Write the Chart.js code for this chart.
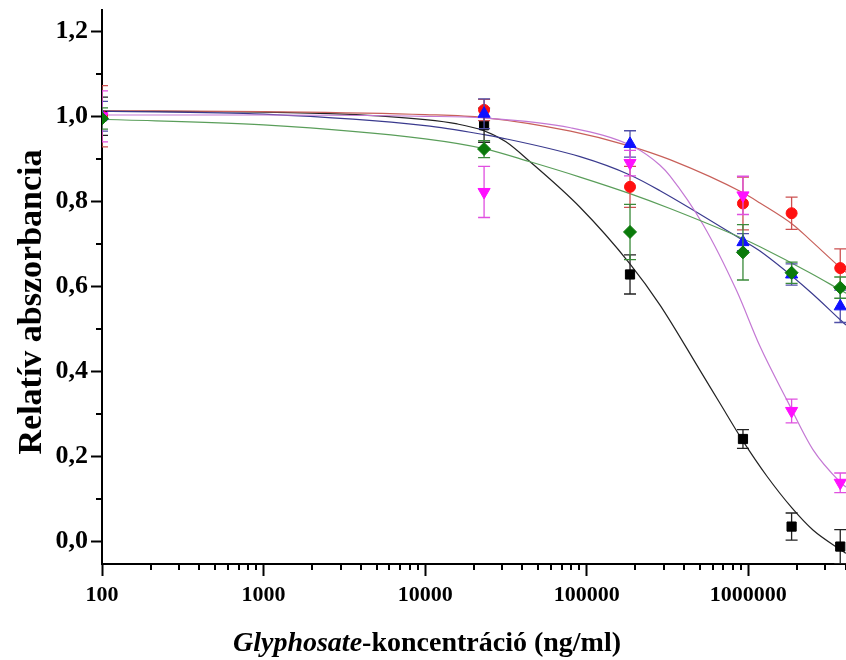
<!DOCTYPE html>
<html>
<head>
<meta charset="utf-8">
<script src="https://cdn.jsdelivr.net/npm/chart.js@4.4.1/dist/chart.umd.min.js"></script>
<style>
html,body{margin:0;padding:0;background:#fff}
#wrap{width:846px;height:660px}
</style>
</head>
<body>
<div id="wrap"><canvas id="chart" width="846" height="660"></canvas></div>
<script>
// ===== measured points (ng/ml, relative absorbance ± SD) =====
const CONC = [100, 23148, 185185, 925926, 1851852, 3703704];
const BLACK_Y = [1.0, 0.979, 0.628, 0.241, 0.035, -0.012];
const BLACK_E = [0.045, 0.04, 0.046, 0.022, 0.032, 0.04];
const RED_Y = [1.0, 1.015, 0.834, 0.795, 0.772, 0.643];
const RED_E = [0.072, 0.025, 0.048, 0.062, 0.038, 0.045];
const BLUE_Y = [1.0, 1.006, 0.935, 0.704, 0.628, 0.553];
const BLUE_E = [0.035, 0.035, 0.031, 0.02, 0.025, 0.038];
const MAG_Y = [1.0, 0.822, 0.89, 0.814, 0.307, 0.138];
const MAG_E = [0.06, 0.06, 0.03, 0.045, 0.028, 0.023];
const GREEN_Y = [0.995, 0.923, 0.728, 0.68, 0.632, 0.597];
const GREEN_E = [0.025, 0.02, 0.065, 0.065, 0.025, 0.025];

// ===== fitted curves =====
const BLACK_FX = [100, 1000, 3160, 10000, 15800, 23100, 31600, 44600, 90800, 185000, 284000, 501000, 667000, 927000, 1300000, 1860000, 2510000, 3740000, 4020000];
const BLACK_FY = [1.012, 1.01, 1.005, 0.992, 0.982, 0.966, 0.94, 0.893, 0.786, 0.653, 0.556, 0.403, 0.325, 0.236, 0.154, 0.079, 0.027, -0.02, -0.028];
const BLUE_FX = [100, 1000, 10000, 23100, 29000, 90800, 185000, 284000, 927000, 1180000, 2400000, 3690000, 4020000];
const BLUE_FY = [1.012, 1.005, 0.978, 0.957, 0.95, 0.905, 0.862, 0.825, 0.708, 0.683, 0.588, 0.522, 0.509];
const GREEN_FX = [100, 1000, 10000, 23100, 44600, 90800, 185000, 327000, 927000, 1180000, 2400000, 3690000, 4020000];
const GREEN_FY = [0.993, 0.98, 0.947, 0.924, 0.893, 0.857, 0.818, 0.783, 0.712, 0.693, 0.632, 0.592, 0.584];
const RED_FX = [100, 1000, 10000, 23100, 79400, 185000, 327000, 927000, 1180000, 1890000, 2400000, 3690000, 4020000];
const RED_FY = [1.013, 1.011, 1.004, 0.997, 0.965, 0.93, 0.898, 0.82, 0.796, 0.745, 0.71, 0.645, 0.633];
const MAG_FX = [100, 1000, 10000, 23100, 79400, 193000, 284000, 327000, 525000, 845000, 1180000, 1730000, 2510000, 3740000, 4020000];
const MAG_FY = [1.003, 1.003, 1.0, 0.996, 0.973, 0.929, 0.885, 0.86, 0.745, 0.59, 0.459, 0.333, 0.216, 0.138, 0.128];

// ===== axes =====
const X_MAJOR = [100, 1000, 10000, 100000, 1000000];
const Y_TICKS = [0, 0.1, 0.2, 0.3, 0.4, 0.5, 0.6, 0.7, 0.8, 0.9, 1.0, 1.1, 1.2];
const X_TITLE_IT = 'Glyphosate';
const X_TITLE_REST = '-koncentráció (ng/ml)';
const Y_TITLE = 'Relatív abszorbancia';

const FONT = "'Liberation Serif', 'Times New Roman', serif";
const isDecade = v => Math.abs(Math.log10(v) - Math.round(Math.log10(v))) < 1e-9;
const isMajorY = v => Math.round(v * 10) % 2 === 0;
const xTicks = [];
X_MAJOR.forEach(m => { for (let k = 1; k <= 9; k++) if (m * k <= 4.02e6) xTicks.push(m * k); });

const pts = (xs, ys) => xs.map((x, i) => ({x, y: ys[i]}));

function curve(xs, ys, color, order) {
  return {type: 'line', data: pts(xs, ys), borderColor: color, borderWidth: 1.2,
    pointRadius: 0, cubicInterpolationMode: 'monotone', fill: false, order: order};
}
function marks(ys, es, color, barColor, style, r, rot, order) {
  return {type: 'scatter', data: pts(CONC, ys), errors: es, barColor: barColor,
    pointStyle: style, pointRadius: r, rotation: rot || 0, backgroundColor: color,
    borderColor: color, borderWidth: 1, order: order, clip: 0};
}

// error bars drawn right under each marker set
const errorBars = {
  id: 'errorBars',
  beforeDatasetDraw(chart, args) {
    const ds = chart.data.datasets[args.index];
    if (!ds.errors) return;
    const {ctx, chartArea: a, scales: {x, y}} = chart;
    ctx.save();
    ctx.beginPath(); ctx.rect(a.left, a.top, a.right - a.left, a.bottom - a.top); ctx.clip();
    ctx.strokeStyle = ds.barColor; ctx.lineWidth = 1.3;
    CONC.forEach((c, i) => {
      const px = x.getPixelForValue(c), v = ds.data[i].y, e = ds.errors[i];
      const t = y.getPixelForValue(v + e), b = y.getPixelForValue(v - e);
      ctx.beginPath();
      ctx.moveTo(px, t); ctx.lineTo(px, b);
      ctx.moveTo(px - 6, t); ctx.lineTo(px + 6, t);
      ctx.moveTo(px - 6, b); ctx.lineTo(px + 6, b);
      ctx.stroke();
    });
    ctx.restore();
  }
};

// short minor ticks + axis titles
const axisExtras = {
  id: 'axisExtras',
  afterDraw(chart) {
    const {ctx, chartArea: a, scales: {x, y}} = chart;
    ctx.save();
    ctx.strokeStyle = '#000'; ctx.lineWidth = 2;
    ctx.beginPath();
    xTicks.filter(v => !isDecade(v)).forEach(v => {
      const px = Math.round(x.getPixelForValue(v));
      ctx.moveTo(px, a.bottom); ctx.lineTo(px, a.bottom + 6);
    });
    Y_TICKS.filter(v => !isMajorY(v)).forEach(v => {
      const py = Math.round(y.getPixelForValue(v));
      ctx.moveTo(a.left, py); ctx.lineTo(a.left - 6, py);
    });
    ctx.stroke();

    ctx.fillStyle = '#000';
    ctx.textBaseline = 'alphabetic';
    const fIt = 'italic bold 28px ' + FONT, fB = 'bold 28px ' + FONT;
    ctx.font = fIt; const w1 = ctx.measureText(X_TITLE_IT).width;
    ctx.font = fB; const w2 = ctx.measureText(X_TITLE_REST).width;
    const x0 = 427 - (w1 + w2) / 2;
    ctx.font = fIt; ctx.textAlign = 'left'; ctx.fillText(X_TITLE_IT, x0, 651);
    ctx.font = fB; ctx.fillText(X_TITLE_REST, x0 + w1, 651);

    ctx.translate(41, 302); ctx.rotate(-Math.PI / 2);
    ctx.textAlign = 'center'; ctx.font = 'bold 34px ' + FONT;
    ctx.fillText(Y_TITLE, 0, 0);
    ctx.restore();
  }
};

new Chart(document.getElementById('chart'), {
  data: {datasets: [
    marks(GREEN_Y, GREEN_E, '#0a7a0a', '#3a8a3a', 'rectRot', 6.5, 0, 1),
    marks(MAG_Y, MAG_E, '#ff10ff', '#e050e0', 'triangle', 7, 180, 2),
    marks(BLUE_Y, BLUE_E, '#1010ff', '#5050a8', 'triangle', 7, 0, 3),
    marks(RED_Y, RED_E, '#ff1010', '#cc5050', 'circle', 5.5, 0, 4),
    marks(BLACK_Y, BLACK_E, '#000000', '#222222', 'rect', 6.5, 0, 5),
    curve(GREEN_FX, GREEN_FY, '#5a9e5a', 10),
    curve(MAG_FX, MAG_FY, '#c478d4', 11),
    curve(BLUE_FX, BLUE_FY, '#3a3a8e', 12),
    curve(RED_FX, RED_FY, '#c8605a', 13),
    curve(BLACK_FX, BLACK_FY, '#222222', 14)
  ]},
  options: {
    responsive: false, animation: false,
    layout: {autoPadding: false, padding: {top: 10, right: 0, left: 0, bottom: 0}},
    plugins: {legend: {display: false}, tooltip: {enabled: false}},
    scales: {
      x: {type: 'logarithmic', min: 100, max: 4.02e6,
        afterBuildTicks: s => { s.ticks = xTicks.map(v => ({value: v})); },
        afterFit: s => { s.height = 96; s.paddingLeft = 0; s.paddingRight = 0; },
        border: {display: true, color: '#000', width: 2},
        grid: {drawOnChartArea: false, drawTicks: true, tickLength: 12, tickWidth: 2,
          tickColor: c => isDecade(c.tick.value) ? '#000' : 'rgba(0,0,0,0)'},
        ticks: {autoSkip: false, maxRotation: 0, padding: 6, color: '#000',
          font: {family: FONT, size: 22, weight: 'bold'},
          callback: v => isDecade(v) ? String(v) : ''}
      },
      y: {type: 'linear', min: -0.053, max: 1.25,
        afterBuildTicks: s => { s.ticks = Y_TICKS.map(v => ({value: v})); },
        afterFit: s => { s.width = 102; s.paddingTop = 0; s.paddingBottom = 0; },
        border: {display: true, color: '#000', width: 2},
        grid: {drawOnChartArea: false, drawTicks: true, tickLength: 11, tickWidth: 2,
          tickColor: c => isMajorY(c.tick.value) ? '#000' : 'rgba(0,0,0,0)'},
        ticks: {padding: 3, color: '#000',
          font: {family: FONT, size: 26, weight: 'bold'},
          callback: v => isMajorY(v) ? v.toFixed(1).replace('.', ',') : ''}
      }
    }
  },
  plugins: [errorBars, axisExtras]
});
</script>
</body>
</html>
